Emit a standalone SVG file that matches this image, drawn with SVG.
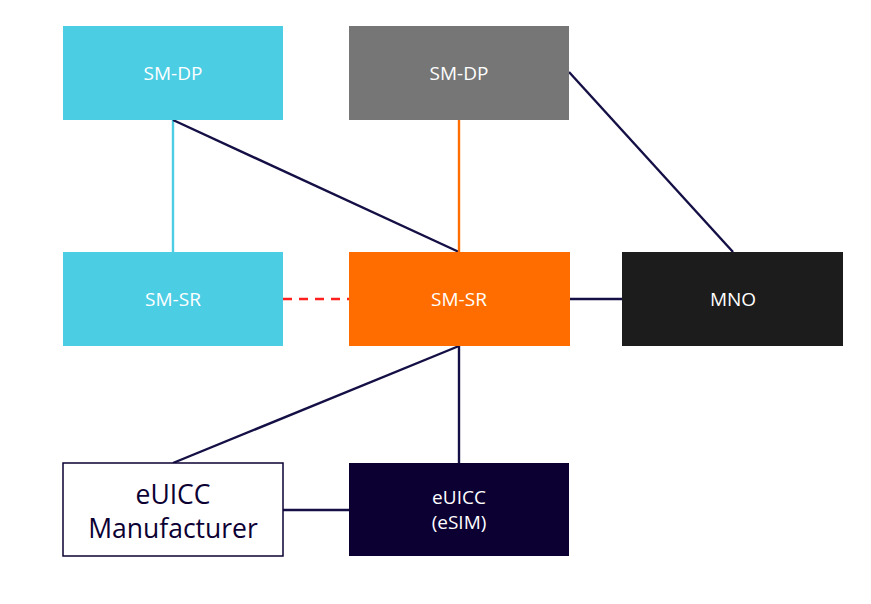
<svg xmlns="http://www.w3.org/2000/svg" width="871" height="604" viewBox="0 0 871 604">
<style>
.lbl{font-family:"Open Sans","Noto Sans",sans-serif;font-size:19px;fill:#fff;text-anchor:middle;dominant-baseline:central}
.big{font-family:"Open Sans","Noto Sans",sans-serif;font-size:26.5px;fill:#0c0033;text-anchor:middle;dominant-baseline:central}
.ln{stroke:#140f45;stroke-width:2.4;fill:none}
</style>
<rect width="871" height="604" fill="#fff"/>
<g id="connectors">
<line x1="173" y1="120" x2="173" y2="252" stroke="#4bcde4" stroke-width="2.4"/>
<line class="ln" x1="173" y1="120" x2="459" y2="252"/>
<line x1="459" y1="120" x2="459" y2="252" stroke="#ff6d00" stroke-width="2.4"/>
<line class="ln" x1="569" y1="72" x2="733" y2="252"/>
<line x1="283" y1="299" x2="349" y2="299" stroke="#ff1f1f" stroke-width="2.4" stroke-dasharray="9,7"/>
<line class="ln" x1="570" y1="299" x2="622" y2="299"/>
<line class="ln" x1="459" y1="346" x2="459" y2="463"/>
<line class="ln" x1="459" y1="346" x2="173" y2="463"/>
<line class="ln" x1="283" y1="510" x2="349" y2="510"/>
</g>
<g id="smdp1"><rect x="63" y="26" width="220" height="94" fill="#4bcde4"/><text class="lbl" x="173" y="73">SM-DP</text></g>
<g id="smdp2"><rect x="349" y="26" width="220" height="94" fill="#767676"/><text class="lbl" x="459" y="73">SM-DP</text></g>
<g id="smsr1"><rect x="63" y="252" width="220" height="94" fill="#4bcde4"/><text class="lbl" x="173" y="299">SM-SR</text></g>
<g id="smsr2"><rect x="349" y="252" width="221" height="94" fill="#ff6d00"/><text class="lbl" x="459" y="299">SM-SR</text></g>
<g id="mno"><rect x="622" y="252" width="221" height="94" fill="#1c1c1c"/><text class="lbl" x="733" y="299">MNO</text></g>
<g id="manufacturer"><rect x="63" y="463" width="220" height="93" fill="#fff" stroke="#0c0033" stroke-width="1.5"/><text class="big" x="173" y="494">eUICC</text><text class="big" x="173" y="528">Manufacturer</text></g>
<g id="esim"><rect x="349" y="463" width="220" height="93" fill="#0c0033"/><text class="lbl" x="459" y="497">eUICC</text><text class="lbl" x="459" y="522">(eSIM)</text></g>
</svg>
